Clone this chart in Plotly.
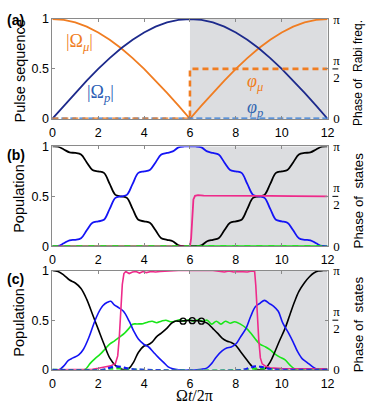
import plotly.graph_objects as go

# ---------------- data ----------------
x_ticks = [0, 2, 4, 6, 8, 10, 12]
left_ticks = [0, 0.5, 1]
left_tick_text = ["0", "0.5", "1"]
right_ticks = [0, 0.5, 1]           # phase in units of pi
right_tick_text = ["0", "π<br>2", "π"]

# panel (a): pulse sequence
t_a = [0, 0.5, 1, 1.5, 2, 2.5, 3, 3.5, 4, 4.5, 5, 5.5, 6,
       6.5, 7, 7.5, 8, 8.5, 9, 9.5, 10, 10.5, 11, 11.5, 12]
omega_p = [0, 0.131, 0.259, 0.383, 0.5, 0.609, 0.707, 0.793, 0.866, 0.924, 0.966, 0.991, 1.0,
           0.991, 0.966, 0.924, 0.866, 0.793, 0.707, 0.609, 0.5, 0.383, 0.259, 0.131, 0]
omega_mu = [1.0, 0.991, 0.966, 0.924, 0.866, 0.793, 0.707, 0.609, 0.5, 0.383, 0.259, 0.131, 0,
            0.131, 0.259, 0.383, 0.5, 0.609, 0.707, 0.793, 0.866, 0.924, 0.966, 0.991, 1.0]
t_phi_mu = [0, 6, 6, 12]
phi_mu = [0, 0, 0.5, 0.5]
t_phi_p = [0, 12]
phi_p = [0, 0]

# panel (b): populations (ideal)
t_b = [0, 0.25, 0.5, 0.75, 1, 1.25, 1.5, 1.75, 2, 2.25, 2.5, 2.75, 3, 3.25, 3.5, 3.75,
       4, 4.25, 4.5, 4.75, 5, 5.25, 5.5, 5.75, 6, 6.25, 6.5, 6.75, 7, 7.25, 7.5, 7.75,
       8, 8.25, 8.5, 8.75, 9, 9.25, 9.5, 9.75, 10, 10.25, 10.5, 10.75, 11, 11.25, 11.5, 11.75, 12]
black_b = [1.0, 0.997, 0.97, 0.94, 0.935, 0.92, 0.84, 0.765, 0.75, 0.735, 0.625, 0.515,
           0.5, 0.485, 0.375, 0.265, 0.25, 0.235, 0.16, 0.08, 0.065, 0.05, 0.01, 0.0,
           0.0, 0.0, 0.01, 0.05, 0.065, 0.08, 0.16, 0.235, 0.25, 0.265, 0.375, 0.485,
           0.5, 0.515, 0.625, 0.735, 0.75, 0.765, 0.84, 0.92, 0.935, 0.94, 0.97, 0.997, 1.0]
blue_b = [0.0, 0.003, 0.03, 0.06, 0.065, 0.08, 0.16, 0.235, 0.25, 0.265, 0.375, 0.485,
          0.5, 0.515, 0.625, 0.735, 0.75, 0.765, 0.84, 0.92, 0.935, 0.95, 0.99, 1.0,
          1.0, 1.0, 0.99, 0.95, 0.935, 0.92, 0.84, 0.765, 0.75, 0.735, 0.625, 0.515,
          0.5, 0.485, 0.375, 0.265, 0.25, 0.235, 0.16, 0.08, 0.065, 0.06, 0.03, 0.003, 0.0]
t_green_b = [0, 12]
green_b = [0, 0]
t_pink_b = [0, 6.0, 6.05, 6.1, 6.15, 6.22, 6.35, 6.6, 7.5, 8.5, 9.5, 10.5, 11.5, 12]
pink_b = [0, 0, 0.08, 0.3, 0.47, 0.505, 0.512, 0.508, 0.505, 0.507, 0.505, 0.503, 0.503, 0.5]

# panel (c): populations (realistic)
t_black_c = [0, 0.25, 0.5, 0.75, 1.0, 1.25, 1.5, 1.75, 2.0, 2.25, 2.5, 2.75, 3.0, 3.15, 3.35,
             3.55, 3.75, 4.0, 4.15, 4.35, 4.55, 4.75, 5.0, 5.2, 5.35, 5.55, 5.75, 6.0, 6.25,
             6.5, 6.75, 7.0, 7.2, 7.4, 7.6, 7.8, 8.0, 8.2, 8.45, 8.65, 8.8, 9.05, 9.3, 9.5,
             9.7, 9.9, 10.15, 10.35, 10.55, 10.75, 11.0, 11.2, 11.4, 11.6, 11.8, 12]
black_c = [1.0, 0.99, 0.955, 0.905, 0.875, 0.82, 0.71, 0.56, 0.41, 0.26, 0.12, 0.045, 0.008,
           0.0, 0.016, 0.08, 0.175, 0.24, 0.25, 0.28, 0.335, 0.37, 0.42, 0.47, 0.49, 0.49,
           0.495, 0.497, 0.495, 0.49, 0.47, 0.415, 0.37, 0.32, 0.29, 0.275, 0.245, 0.185,
           0.11, 0.05, 0.012, 0.0, 0.016, 0.08, 0.18, 0.29, 0.42, 0.55, 0.68, 0.79, 0.88,
           0.935, 0.975, 0.995, 1.0, 1.0]
t_black_loops = [5.7, 6.1, 6.5]
black_loops = [0.49, 0.495, 0.49]

t_blue_c = [0, 0.3, 0.5, 0.7, 0.9, 1.15, 1.35, 1.6, 1.8, 2.0, 2.2, 2.4, 2.55, 2.7, 2.9, 3.1,
            3.35, 3.55, 3.75, 4.0, 4.2, 4.4, 4.6, 4.85, 5.05, 5.25, 5.5, 6.3, 6.5, 6.75, 6.95,
            7.15, 7.4, 7.6, 7.8, 8.0, 8.2, 8.45, 8.65, 8.85, 9.05, 9.25, 9.45, 9.65, 9.85,
            10.05, 10.3, 10.5, 10.7, 10.9, 11.1, 11.35, 11.55, 11.8, 12]
blue_c = [0, 0.0, 0.04, 0.095, 0.12, 0.15, 0.205, 0.33, 0.46, 0.57, 0.645, 0.68, 0.69, 0.655,
          0.625, 0.59, 0.49, 0.39, 0.31, 0.255, 0.23, 0.18, 0.13, 0.075, 0.03, 0.01, 0.0, 0.0,
          0.005, 0.02, 0.065, 0.13, 0.19, 0.22, 0.23, 0.26, 0.33, 0.42, 0.54, 0.635, 0.67,
          0.70, 0.67, 0.64, 0.59, 0.47, 0.37, 0.28, 0.18, 0.11, 0.075, 0.03, 0.006, 0.0, 0.0]

t_green_c = [0, 1.4, 1.65, 1.85, 2.1, 2.3, 2.5, 2.7, 2.9, 3.15, 3.35, 3.5, 3.7, 3.95, 4.15,
             4.35, 4.55, 4.75, 4.95, 5.15, 5.35, 5.55, 5.75, 5.95, 6.15, 6.35, 6.55, 6.75,
             6.95, 7.15, 7.35, 7.55, 7.75, 7.95, 8.2, 8.45, 8.65, 8.85, 9.05, 9.3, 9.5, 9.7,
             9.9, 10.15, 10.35, 10.55, 10.75, 12]
green_c = [0, 0.0, 0.065, 0.11, 0.16, 0.21, 0.26, 0.29, 0.325, 0.37, 0.42, 0.46, 0.462,
           0.465, 0.48, 0.49, 0.475, 0.49, 0.5, 0.485, 0.49, 0.505, 0.49, 0.505, 0.49, 0.505,
           0.49, 0.5, 0.46, 0.49, 0.46, 0.49, 0.47, 0.485, 0.46, 0.42, 0.37, 0.31, 0.26, 0.23,
           0.2, 0.16, 0.13, 0.1, 0.05, 0.012, 0.0, 0.0]

t_pink_c = [0, 1.5, 1.75, 2.0, 2.3, 2.55, 2.75, 2.85, 2.92, 2.98, 3.05, 3.12, 3.2, 3.35, 3.5,
            3.65, 3.8, 3.95, 4.1, 4.3, 4.5, 4.7, 5.0, 5.5, 7.0, 7.3, 7.5, 7.7, 7.9, 8.1, 8.3,
            8.5, 8.7, 8.82, 8.87, 8.93, 9.0, 9.07, 9.15, 9.3, 9.5, 10.0, 12.0]
pink_c = [0.0, 0.0, 0.005, 0.015, 0.03, 0.04, 0.065, 0.14, 0.33, 0.62, 0.86, 0.97, 0.99, 0.97,
          0.985, 0.99, 0.975, 0.99, 0.98, 0.99, 0.985, 0.99, 0.995, 1.0, 1.0, 0.99, 0.985,
          0.995, 0.985, 0.99, 0.99, 0.985, 0.995, 0.99, 0.85, 0.57, 0.3, 0.12, 0.06, 0.035,
          0.02, 0.012, 0.01]

t_blue_dash_c = [0, 2.2, 2.5, 2.75, 3.0, 3.25, 3.5, 4.0, 8.3, 8.6, 8.85, 9.1, 9.35, 9.6, 10.0, 12]
blue_dash_c = [0, 0, 0.02, 0.035, 0.03, 0.015, 0.005, 0, 0, 0.02, 0.035, 0.03, 0.015, 0.003, 0, 0]
t_green_dash_c = [0, 2.3, 2.7, 3.0, 3.3, 3.7, 8.4, 8.8, 9.1, 9.4, 9.8, 12]
green_dash_c = [0, 0, 0.01, 0.015, 0.01, 0, 0, 0.01, 0.015, 0.01, 0, 0]

# ---------------- styling ----------------
W, H = 374, 413
X0, X1 = 50.7, 333.5
panels = [(12.5, 116.0), (144.7, 248.3), (273.5, 376.5)]
SHADE = "#dcdde0"
AXC = "#8a8a8a"
ORANGE = "#f07d22"
NAVY = "#1d2a8c"
MIDBLUE = "#2f78d4"
BLUE = "#1414f5"
GREEN = "#19e619"
PINK = "#ee2a8a"
SANS = "Liberation Sans, Arial, sans-serif"
SERIF = "Liberation Serif, Times New Roman, serif"


def px(x):
    return x / W


def py(y):
    return 1 - y / H


fig = go.Figure()


def add(i, x, y, color, width=1.8, dash="solid", shape="linear", right=False):
    xa = "x" if i == 0 else f"x{i + 1}"
    n = 2 * i + (2 if right else 1)
    ya = "y" if n == 1 else f"y{n}"
    fig.add_trace(go.Scatter(x=x, y=y, mode="lines", xaxis=xa, yaxis=ya,
                             line=dict(color=color, width=width, dash=dash, shape=shape),
                             showlegend=False, hoverinfo="skip"))


# panel a
add(0, t_a, omega_mu, ORANGE, 1.8)
add(0, t_a, omega_p, NAVY, 1.8)
add(0, t_phi_p, phi_p, MIDBLUE, 2.6, dash="6px,3px", right=True)
add(0, t_phi_mu, phi_mu, ORANGE, 2.6, dash="6px,4px", right=True)

# panel b
add(1, t_green_b, green_b, GREEN, 2.0)
add(1, t_b, black_b, "black", 1.8, shape="spline")
add(1, t_b, blue_b, BLUE, 1.8, shape="spline")
add(1, t_pink_b, pink_b, PINK, 1.8, right=True)
add(1, t_green_b, green_b, GREEN, 2.0, dash="6px,6px", right=True)

# panel c
add(2, t_green_c, green_c, GREEN, 1.6, shape="spline")
add(2, t_black_c, black_c, "black", 1.6, shape="spline")
fig.add_trace(go.Scatter(x=t_black_loops, y=black_loops, mode="markers", xaxis="x3", yaxis="y5",
                         marker=dict(symbol="circle-open", size=6, color="black",
                                     line=dict(width=1.3, color="black")),
                         showlegend=False, hoverinfo="skip"))
add(2, t_blue_c, blue_c, BLUE, 1.6, shape="spline")
add(2, t_pink_c, pink_c, PINK, 1.6, right=True)
add(2, t_green_dash_c, green_dash_c, GREEN, 2.2, dash="5px,3px", shape="spline", right=True)
add(2, t_blue_dash_c, blue_dash_c, BLUE, 2.2, dash="5px,3px", shape="spline", right=True)

tickfont = dict(family=SANS, size=12.5, color="black")
layout = dict(width=W, height=H, margin=dict(l=0, r=0, t=0, b=0),
              paper_bgcolor="white", plot_bgcolor="white", showlegend=False)
shapes = []
annotations = []
titles_left = ["Pulse sequence", "Population", "Population"]
titles_right = ["Phase of  Rabi freq.", "Phase of  states", "Phase of  states"]
right_title_size = [12, 13.3, 13.3]
labels = ["(a)", "(b)", "(c)"]
label_y = [3, 143, 271.5]

for i, (top, bot) in enumerate(panels):
    xk = "xaxis" if i == 0 else f"xaxis{i + 1}"
    yl = "yaxis" if i == 0 else f"yaxis{2 * i + 1}"
    yr = f"yaxis{2 * i + 2}"
    xid = "x" if i == 0 else f"x{i + 1}"
    ylid = "y" if i == 0 else f"y{2 * i + 1}"
    layout[xk] = dict(domain=[px(X0), px(X1)], range=[0, 12], anchor=ylid,
                      tickvals=x_ticks, ticks="inside", ticklen=3, tickcolor=AXC,
                      showline=True, linecolor=AXC, linewidth=1, mirror="ticks",
                      showgrid=False, zeroline=False, tickfont=tickfont, ticklabelstandoff=2)
    layout[yl] = dict(domain=[py(bot), py(top)], range=[0, 1], anchor=xid,
                      tickvals=left_ticks, ticktext=left_tick_text, ticks="inside", ticklen=3,
                      tickcolor=AXC, showline=True, linecolor=AXC, linewidth=1,
                      showgrid=False, zeroline=False, tickfont=tickfont)
    layout[yr] = dict(range=[0, 1], overlaying=ylid, side="right", anchor=xid,
                      tickvals=right_ticks, ticktext=right_tick_text, ticks="inside", ticklen=3,
                      tickcolor=AXC, showline=True, linecolor=AXC, linewidth=1,
                      showgrid=False, zeroline=False, ticklabelstandoff=2,
                      tickfont=dict(family=SERIF, size=13, color="black"))
    shapes.append(dict(type="rect", xref=xid, yref=f"{ylid} domain", x0=6, x1=12, y0=0, y1=1,
                       fillcolor=SHADE, line=dict(width=0), layer="below"))
    ymid = (top + bot) / 2
    shapes.append(dict(type="line", xref="paper", yref="paper", x0=px(X1 + 5), x1=px(X1 + 11),
                       y0=py(ymid), y1=py(ymid), line=dict(color="black", width=1)))
    annotations.append(dict(text=titles_left[i], xref="paper", yref="paper", x=px(17),
                            y=py(ymid + 2), textangle=-90, showarrow=False,
                            font=dict(family=SANS, size=14.5, color="black"),
                            xanchor="center", yanchor="middle"))
    annotations.append(dict(text=titles_right[i], xref="paper", yref="paper", x=px(365),
                            y=py(ymid + 4), textangle=-90, showarrow=False,
                            font=dict(family=SANS, size=right_title_size[i], color="black"),
                            xanchor="center", yanchor="middle"))
    annotations.append(dict(text="<b>" + labels[i] + "</b>", xref="paper", yref="paper", x=px(2),
                            y=py(label_y[i]), showarrow=False, xanchor="left", yanchor="top",
                            font=dict(family=SANS, size=14, color="black")))

annotations += [
    dict(text="|Ω<sub><i>μ</i></sub>|", x=1.2, y=0.76, xref="x", yref="y", showarrow=False,
         font=dict(family=SERIF, size=18, color=ORANGE)),
    dict(text="|Ω<sub><i>p</i></sub>|", x=2.1, y=0.25, xref="x", yref="y", showarrow=False,
         font=dict(family=SERIF, size=18, color="#2c5db5")),
    dict(text="<i>φ</i><sub><i>μ</i></sub>", x=8.85, y=0.36, xref="x", yref="y", showarrow=False,
         font=dict(family=SERIF, size=18, color=ORANGE)),
    dict(text="<i>φ</i><sub><i>p</i></sub>", x=8.85, y=0.1, xref="x", yref="y", showarrow=False,
         font=dict(family=SERIF, size=18, color="#3366b0")),
    dict(text="Ω<i>t</i>/2π", xref="paper", yref="paper", x=px(197), y=py(403.5),
         showarrow=False, font=dict(family=SERIF, size=16, color="black"),
         xanchor="center", yanchor="middle"),
]
layout["shapes"] = shapes
layout["annotations"] = annotations
fig.update_layout(**layout)
fig.write_html("out.html", config={"displayModeBar": False},
               post_script="document.body.style.margin='0';")
